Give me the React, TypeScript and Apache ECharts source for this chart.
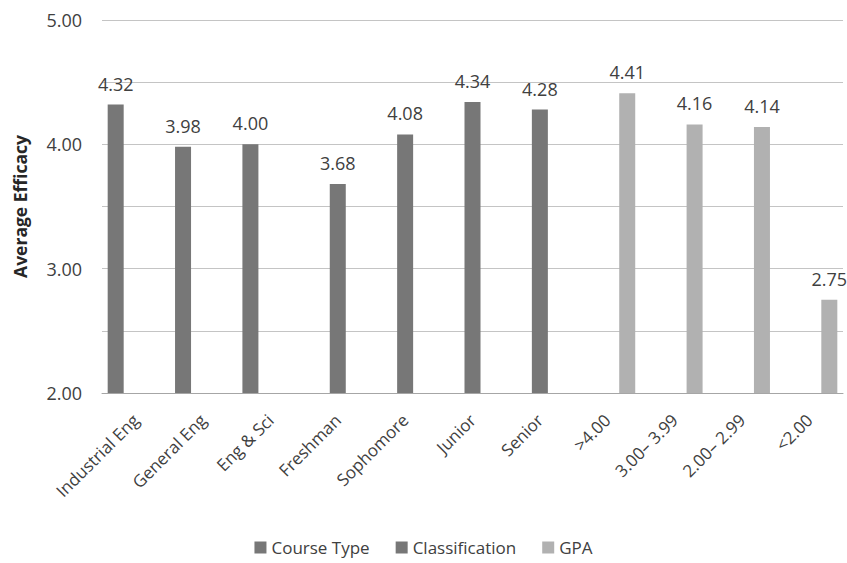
import React, { useEffect, useRef } from "react";
import * as echarts from "echarts";

const categories = [
  "Industrial Eng",
  "General Eng",
  "Eng & Sci",
  "Freshman",
  "Sophomore",
  "Junior",
  "Senior",
  ">4.00",
  "3.00– 3.99",
  "2.00– 2.99",
  "<2.00",
];

const courseType = [4.32, 3.98, 4.0, null, null, null, null, null, null, null, null];
const classification = [null, null, null, 3.68, 4.08, 4.34, 4.28, null, null, null, null];
const gpa = [null, null, null, null, null, null, null, 4.41, 4.16, 4.14, 2.75];

const seriesNames = ["Course Type", "Classification", "GPA"];
const seriesColors = ["#777777", "#777777", "#b1b1b1"];

const FONT = "'Open Sans', 'Noto Sans', sans-serif";

export default function App() {
  const ref = useRef<HTMLDivElement>(null);

  useEffect(() => {
    if (!ref.current) return;
    const chart = echarts.init(ref.current, undefined, { renderer: "svg" });
    const datasets = [courseType, classification, gpa];
    chart.setOption({
      animation: false,
      textStyle: { fontFamily: FONT },
      grid: { left: 102, right: 4, top: 20, bottom: 170, containLabel: false },
      legend: {
        bottom: 2,
        left: "center",
        icon: "rect",
        itemWidth: 12,
        itemHeight: 12,
        itemGap: 26,
        textStyle: { fontFamily: FONT, fontSize: 17, color: "#404040" },
        data: seriesNames,
      },
      xAxis: {
        type: "category",
        data: categories,
        axisLine: { show: true, lineStyle: { color: "#a6a6a6", width: 1 } },
        axisTick: { show: false },
        axisLabel: {
          rotate: 45,
          interval: 0,
          margin: 24,
          fontFamily: FONT,
          fontSize: 17,
          color: "#404040",
        },
      },
      yAxis: {
        type: "value",
        min: 2,
        max: 5,
        interval: 0.5,
        name: "Average Efficacy",
        nameLocation: "middle",
        nameGap: 73,
        nameRotate: 90,
        nameTextStyle: {
          fontFamily: FONT,
          fontSize: 17.5,
          fontWeight: "bold",
          color: "#262626",
        },
        axisLine: { show: false },
        axisTick: { show: false },
        splitLine: { lineStyle: { color: "#c4c4c4", width: 1 } },
        axisLabel: {
          margin: 20,
          fontFamily: FONT,
          fontSize: 18,
          color: "#404040",
          formatter: (v: number) =>
            Math.abs(v - Math.round(v)) < 1e-9 ? v.toFixed(2) : "",
        },
      },
      series: seriesNames.map((name, i) => ({
        name,
        type: "bar",
        data: datasets[i],
        barWidth: 16,
        barGap: "25%",
        itemStyle: { color: seriesColors[i] },
        label: {
          show: true,
          position: "top",
          distance: 12,
          fontFamily: FONT,
          fontSize: 18,
          color: "#404040",
          formatter: (p: any) =>
            p.value == null ? "" : Number(p.value).toFixed(2),
        },
      })),
    });
    return () => chart.dispose();
  }, []);

  return (
    <div
      ref={ref}
      style={{ position: "absolute", left: 0, top: 0, width: 847, height: 563 }}
    />
  );
}
